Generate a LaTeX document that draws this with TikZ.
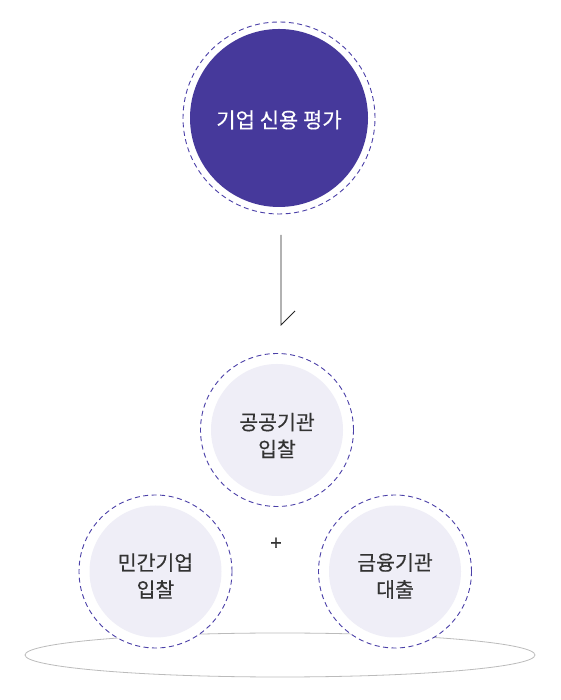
\documentclass[tikz,border=0pt]{standalone}
\usepackage{fontspec}
\setmainfont{Noto Sans CJK KR}[BoldFont={Noto Sans CJK KR}, BoldFeatures={FakeBold=0.35}]
\begin{document}
\begin{tikzpicture}[x=1pt,y=1pt,
  dashring/.style={draw=ringc, line width=0.9pt, dash pattern=on 5pt off 3.5pt, fill=white},
  darkcore/.style={fill=corec, draw=none},
  lightcore/.style={fill=lightc, draw=none},
  toptext/.style={text=white, font=\fontsize{21}{26}\selectfont\bfseries, align=center, inner sep=0pt},
  subtext/.style={text=txtc, font=\fontsize{20.5}{27}\selectfont\bfseries, align=center, inner sep=0pt},
  conn/.style={draw=black!85, line width=0.8pt}
]
\definecolor{ringc}{HTML}{4B40A8}
\definecolor{corec}{HTML}{46399B}
\definecolor{lightc}{HTML}{EFEEF7}
\definecolor{txtc}{HTML}{333333}
\definecolor{ellc}{HTML}{BBBBBB}
\useasboundingbox (0,0) rectangle (560,700);
% base ellipse
\draw[draw=ellc, line width=0.8pt] (280,45) ellipse [x radius=255, y radius=22];
% top circle
\path[dashring] (279,582) circle [radius=96];
\path[darkcore] (279,582) circle [radius=89];
\node[toptext] (top) at (279,580) {기업 신용 평가};
% arrow
\coordinate (a1) at (281,465);
\coordinate (a2) at (281,375);
\coordinate (a3) at (295,389);
\draw[conn] (a1) -- (a2) -- (a3);
% middle
\path[dashring] (277,270) circle [radius=76.5];
\path[lightcore] (277,270) circle [radius=66];
\node[subtext] (mid) at (277,264.5) {공공기관\\입찰};
% left
\path[dashring] (155.5,128.5) circle [radius=76.5];
\path[lightcore] (155.5,128.5) circle [radius=66];
\node[subtext] (left) at (155.5,124) {민간기업\\입찰};
% right
\path[dashring] (395,128.5) circle [radius=76.5];
\path[lightcore] (395,128.5) circle [radius=66];
\node[subtext] (right) at (395,124) {금융기관\\대출};
% plus
\node[text=txtc, font=\fontsize{20}{20}\selectfont\bfseries, inner sep=0pt] (plus) at (276,156) {+};
\end{tikzpicture}
\end{document}
